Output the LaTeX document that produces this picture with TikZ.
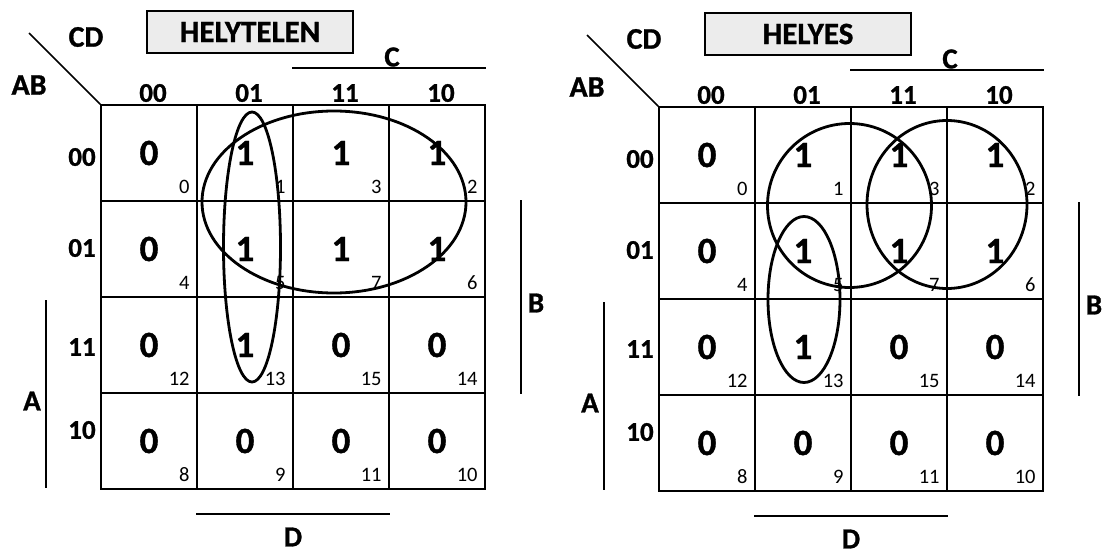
\documentclass[tikz,border=0pt]{standalone}
\usepackage{fontspec}
\setmainfont{Carlito}[BoldFeatures={FakeBold=1}]
\usetikzlibrary{positioning}
\tikzset{
  cellbox/.style={draw, line width=1.6pt, minimum size=96pt, inner sep=0pt},
  valnum/.style={font=\fontsize{37}{37}\selectfont\bfseries, inner sep=0pt},
  idxnum/.style={font=\fontsize{20.5}{20.5}\selectfont, inner sep=0pt},
  hdr/.style={font=\fontsize{27}{27}\selectfont\bfseries, inner sep=0pt},
  cornerlbl/.style={font=\fontsize{30}{30}\selectfont\bfseries, inner sep=0pt},
  varlbl/.style={font=\fontsize{29}{29}\selectfont\bfseries, inner sep=0pt},
  titlebox/.style={draw, line width=1.2pt, fill=gray!15, minimum width=206pt,
    minimum height=42pt, inner sep=0pt, font=\fontsize{31}{31}\selectfont\bfseries},
  barln/.style={line width=1.6pt},
  loopln/.style={line width=2.8pt},
}
% one Karnaugh map: #1 prefix, #2 shift, #3 title
\newcommand{\kmap}[3]{%
  \begin{scope}[shift={#2}]
    \node[titlebox] (#1-title) at (250,32) {#3};
    \node[cornerlbl] (#1-cd) at (86,37) {CD};
    \node[cornerlbl] (#1-ab) at (29,85) {AB};
    % cells: row, column, value, minterm
    \foreach \row/\col/\val/\idx in {0/0/0/0, 0/1/1/1, 0/2/1/3, 0/3/1/2,
        1/0/0/4, 1/1/1/5, 1/2/1/7, 1/3/1/6, 2/0/0/12, 2/1/1/13, 2/2/0/15,
        2/3/0/14, 3/0/0/8, 3/1/0/9, 3/2/0/11, 3/3/0/10}{
      \node[cellbox] (#1-c\row\col) at ({149+96*\col},{153+96*\row}) {};
      \node[valnum] (#1-v\row\col) at (#1-c\row\col) {\val};
      \node[idxnum, anchor=base east] (#1-i\row\col)
        at ([xshift=-8pt,yshift=8pt]#1-c\row\col.south east) {\idx};
    }
    \foreach \col/\lab in {0/00, 1/01, 2/11, 3/10}
      \node[hdr] (#1-h\col) at ({153+96*\col},93) {\lab};
    \foreach \row/\lab/\ypos in {0/00/157, 1/01/248, 2/11/347, 3/10/430}
      \node[hdr] (#1-r\row) at (82,\ypos) {\lab};
    % corner diagonal
    \coordinate (#1-diag) at (29,33);
    \draw[barln] (#1-diag) -- (#1-c00.north west);
    % variable bars
    \draw[barln] ([yshift=36pt]#1-c02.north west) -- ([yshift=36pt]#1-c03.north east);
    \node[varlbl] (#1-C) at (392,57) {C};
    \draw[barln] ([xshift=35pt]#1-c13.north east) -- ([xshift=35pt]#1-c23.south east);
    \node[varlbl] (#1-B) at (536,303) {B};
    \draw[barln] ([xshift=-54pt,yshift=-4pt]#1-c20.north west) --
      ([xshift=-54pt,yshift=2pt]#1-c30.south west);
    \node[varlbl] (#1-A) at (32,401) {A};
    \draw[barln] ([yshift=-24pt]#1-c31.south west) -- ([yshift=-24pt]#1-c32.south east);
    \node[varlbl] (#1-D) at (293,537) {D};
  \end{scope}
}

\begin{document}
\begin{tikzpicture}[x=1pt, y=-1pt]
  \useasboundingbox (0,0) rectangle (1103,554);
  \kmap{L}{(0,0)}{HELYTELEN}
  \kmap{R}{(558,2)}{HELYES}
  % wrong grouping
  \draw[loopln] (334,202) ellipse [x radius=132pt, y radius=91pt];
  \draw[loopln] (252,247) ellipse [x radius=28.5pt, y radius=135pt];
  % right grouping
  \begin{scope}[shift={(558,2)}]
    \draw[loopln] (291.5,203.5) ellipse [x radius=82pt, y radius=82pt];
    \draw[loopln] (389,202.5) ellipse [x radius=80pt, y radius=84pt];
    \draw[loopln] (246,297.5) ellipse [x radius=36pt, y radius=83pt];
  \end{scope}
\end{tikzpicture}
\end{document}
